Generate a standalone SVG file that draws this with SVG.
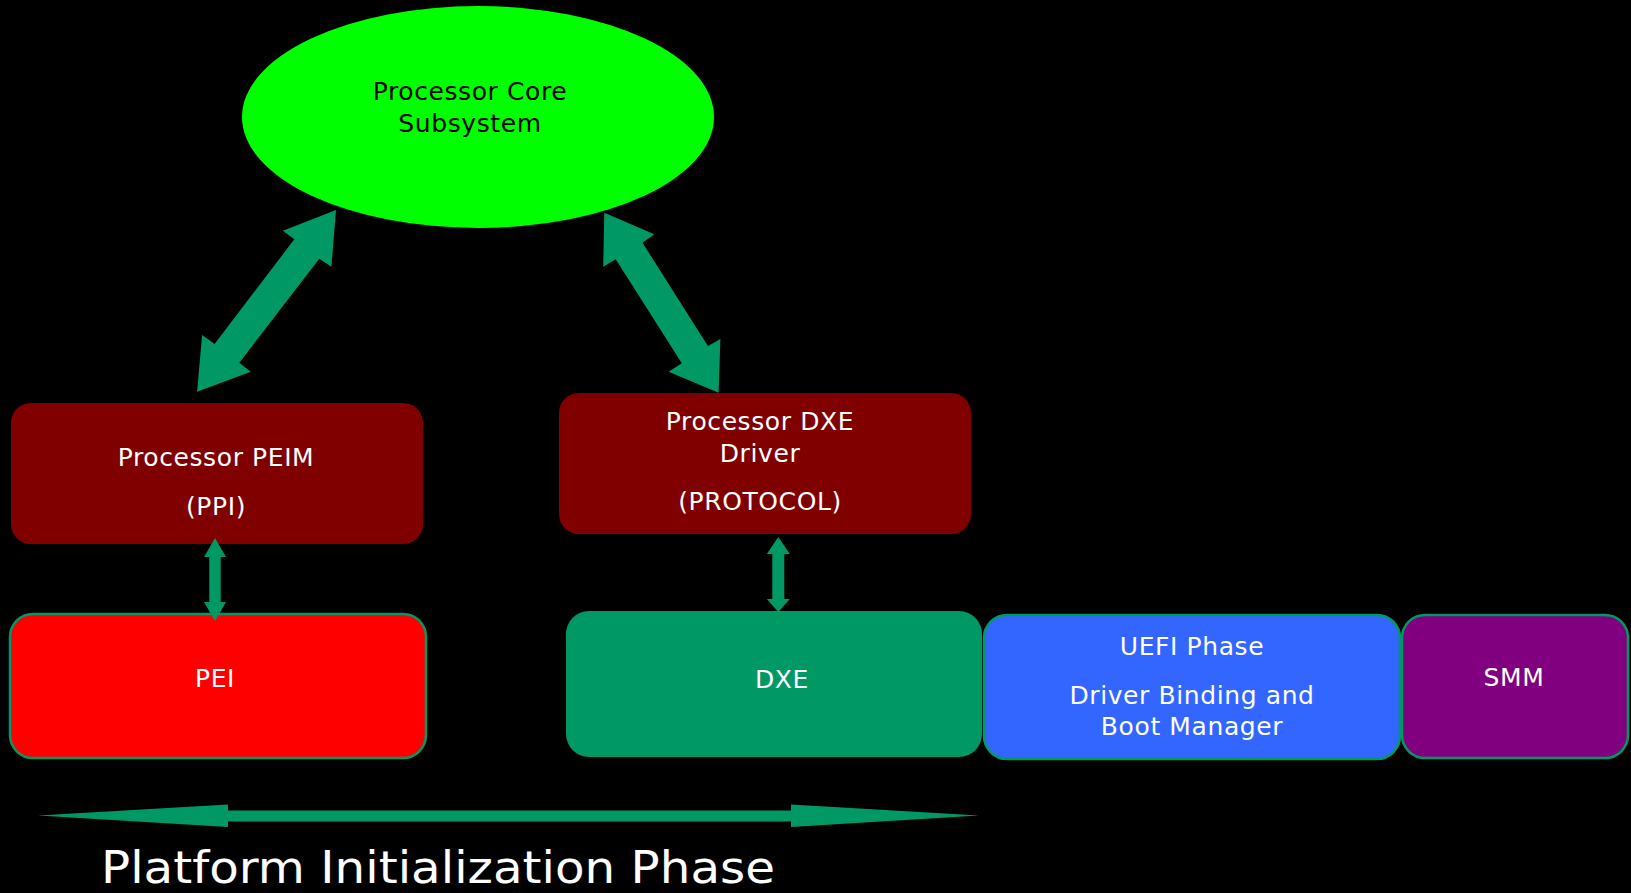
<svg xmlns="http://www.w3.org/2000/svg" width="1631" height="893" viewBox="0 0 1631 893">
  <style>
    .lbl { font-family: "DejaVu Sans", "Liberation Sans", sans-serif; font-size: 25px; fill: #ffffff; text-anchor: middle; letter-spacing: 0.6px; }
    .dark { fill: #000000; }
    .conn { fill: #009966; stroke: none; }
    .edge { stroke: #009966; stroke-width: 2.5; }
  </style>
  <rect x="0" y="0" width="1631" height="893" fill="#000000"/>

  <!-- core subsystem -->
  <g id="core">
    <ellipse cx="478" cy="117" rx="236" ry="111" fill="#00ff00"/>
    <text class="lbl dark" x="470" y="100">Processor Core</text>
    <text class="lbl dark" x="470" y="132">Subsystem</text>
  </g>

  <!-- PEIM module -->
  <g id="peim">
    <rect x="11" y="403" width="412" height="141" rx="20" fill="#800000"/>
    <text class="lbl" x="216" y="466">Processor PEIM</text>
    <text class="lbl" x="216" y="515">(PPI)</text>
  </g>

  <!-- DXE driver -->
  <g id="dxe-driver">
    <rect x="559" y="393" width="412" height="141" rx="20" fill="#800000"/>
    <text class="lbl" x="760" y="430">Processor DXE</text>
    <text class="lbl" x="760" y="462">Driver</text>
    <text class="lbl" x="760" y="510">(PROTOCOL)</text>
  </g>

  <!-- phase blocks -->
  <g id="pei">
    <rect x="10" y="614" width="416" height="144" rx="23" fill="#ff0000" class="edge"/>
    <text class="lbl" x="215" y="687">PEI</text>
  </g>
  <g id="dxe">
    <rect x="566" y="611" width="416" height="146" rx="23" fill="#009966"/>
    <text class="lbl" x="782" y="688">DXE</text>
  </g>
  <g id="uefi">
    <rect x="984" y="615" width="416" height="144" rx="23" fill="#3366ff" class="edge"/>
    <text class="lbl" x="1192" y="655">UEFI Phase</text>
    <text class="lbl" x="1192" y="704">Driver Binding and</text>
    <text class="lbl" x="1192" y="735">Boot Manager</text>
  </g>
  <g id="smm">
    <rect x="1402" y="615" width="226" height="143" rx="23" fill="#800080" class="edge"/>
    <text class="lbl" x="1514" y="686">SMM</text>
  </g>

  <!-- double-headed connectors -->
  <g id="connectors">
    <polygon class="conn" points="336,210 331.4,266.7 319.3,258.7 239.3,362.7 250.7,371.7 197.1,391.7 202.1,335 214.6,344 294.3,239.3 282.9,230.7"/>
    <polygon class="conn" points="604.3,212.7 654.3,234.3 642.5,242.7 707.9,346 720.4,339 718.6,392.7 668.6,371.7 681.8,363.3 615.7,259.3 603.2,266.7"/>
    <polygon class="conn" points="215,538 226,557 220.7,557 220.7,602 226,602 215,621 204,602 209.3,602 209.3,557 204,557"/>
    <polygon class="conn" points="778.3,537 789.8,554 784.3,554 784.3,599 789.8,599 778.3,612 766.8,599 772.3,599 772.3,554 766.8,554"/>
    <polygon class="conn" points="38,815.5 228,804.5 228,810.5 791,810.5 791,804.5 979,815.5 791,827 791,821.5 228,821.5 228,827"/>
  </g>

  <text x="101" y="883" font-family="DejaVu Sans, Liberation Sans, sans-serif" font-size="44" fill="#ffffff" textLength="674" lengthAdjust="spacingAndGlyphs">Platform Initialization Phase</text>
</svg>
